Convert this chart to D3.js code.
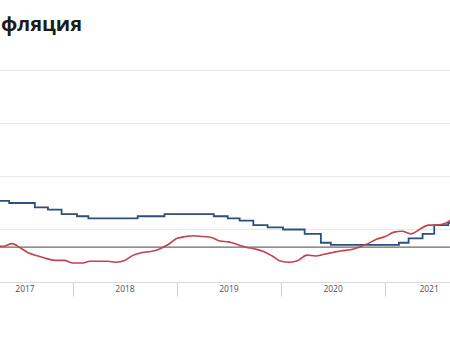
<!DOCTYPE html>
<html>
<head>
<meta charset="utf-8">
<script src="https://cdn.jsdelivr.net/npm/d3@7"></script>
<style>
  html, body { margin: 0; padding: 0; background: #fff; overflow: hidden; }
  svg { display: block; }
</style>
</head>
<body>
<svg id="chart" width="450" height="350"></svg>
<script>
// ---- data ----
const titleText = "фляция";
const yearLabels = ["2017", "2018", "2019", "2020", "2021"];
const gridValues = [6, 12, 18, 24];
const targetValue = 4;

// Annual CPI inflation, % (monthly)
const inflationMonths = [
  "2017-01","2017-02","2017-03","2017-04","2017-05","2017-06","2017-07","2017-08","2017-09","2017-10","2017-11","2017-12",
  "2018-01","2018-02","2018-03","2018-04","2018-05","2018-06","2018-07","2018-08","2018-09","2018-10","2018-11","2018-12",
  "2019-01","2019-02","2019-03","2019-04","2019-05","2019-06","2019-07","2019-08","2019-09","2019-10","2019-11","2019-12",
  "2020-01","2020-02","2020-03","2020-04","2020-05","2020-06","2020-07","2020-08","2020-09","2020-10","2020-11","2020-12",
  "2021-01","2021-02","2021-03","2021-04","2021-05","2021-06","2021-07","2021-08","2021-09","2021-10"
];
const inflationValues = [
  5.0, 4.6, 4.3, 4.1, 4.1, 4.4, 3.9, 3.3, 3.0, 2.7, 2.5, 2.5,
  2.2, 2.2, 2.4, 2.4, 2.4, 2.3, 2.5, 3.1, 3.4, 3.5, 3.8, 4.3,
  5.0, 5.2, 5.3, 5.2, 5.1, 4.7, 4.6, 4.3, 4.0, 3.8, 3.5, 3.0,
  2.4, 2.3, 2.5, 3.1, 3.0, 3.2, 3.4, 3.6, 3.7, 4.0, 4.4, 4.9,
  5.2, 5.7, 5.8, 5.5, 6.0, 6.5, 6.5, 6.7, 7.4, 8.1
];

// Key rate, % (step changes)
const keyRateDates = [
  "2017-02-27","2017-04-02","2017-05-22","2017-08-20","2017-10-05","2017-11-22",
  "2018-01-15","2018-02-24","2018-08-16","2018-11-18",
  "2019-05-10","2019-06-28","2019-08-09","2019-09-26","2019-11-15",
  "2020-01-08","2020-03-24","2020-05-20","2020-06-24",
  "2021-02-18","2021-03-24","2021-05-12","2021-06-22","2021-08-10","2021-09-24"
];
const keyRateValues = [
  9.75, 9.25, 9.0, 8.5, 8.25, 7.75,
  7.5, 7.25, 7.5, 7.75,
  7.5, 7.25, 7.0, 6.5, 6.25,
  6.0, 5.5, 4.5, 4.25,
  4.5, 5.0, 5.5, 6.5, 6.75, 7.5
];

// ---- layout ----
const plotLeft = -23, plotRight = 473;
const yBottom = 282.5, yTop = 70.5;
const parseMonth = d3.timeParse("%Y-%m");
const parseDay = d3.timeParse("%Y-%m-%d");

const svg = d3.select("#chart");

const x = d3.scaleTime()
  .domain([parseDay("2017-01-29"), parseDay("2021-11-05")])
  .range([plotLeft, plotRight]);

const y = d3.scaleLinear()
  .domain([0, 24])
  .range([yBottom, yTop]);

// heading
svg.append("text")
  .attr("x", 1)
  .attr("y", 31)
  .attr("font-family", "'Open Sans', 'DejaVu Sans', sans-serif")
  .attr("font-weight", 700)
  .attr("font-size", 20)
  .attr("fill", "#1b1b1b")
  .text(titleText);

// horizontal grid
svg.append("g")
  .selectAll("line")
  .data(gridValues)
  .join("line")
  .attr("x1", plotLeft).attr("x2", plotRight)
  .attr("y1", d => y(d)).attr("y2", d => y(d))
  .attr("stroke", "#e9e9e9")
  .attr("stroke-width", 1.2);

// x axis baseline
svg.append("line")
  .attr("x1", plotLeft).attr("x2", plotRight)
  .attr("y1", y(0)).attr("y2", y(0))
  .attr("stroke", "#dcdcdc")
  .attr("stroke-width", 1);

// year separators and centred year labels
const yearStarts = yearLabels.map(s => d3.timeYear(parseDay(s + "-01-01")));
svg.append("g")
  .selectAll("line")
  .data(yearStarts.filter(d => x(d) > plotLeft))
  .join("line")
  .attr("x1", d => Math.round(x(d)) + 0.5).attr("x2", d => Math.round(x(d)) + 0.5)
  .attr("y1", y(0)).attr("y2", y(0) + 14)
  .attr("stroke", "#cfcfcf")
  .attr("stroke-width", 1);

svg.append("g")
  .selectAll("text")
  .data(yearLabels)
  .join("text")
  .attr("x", (d, i) => {
    const a = Math.max(plotLeft, x(yearStarts[i]));
    const b = Math.min(plotRight, x(d3.timeYear.offset(yearStarts[i], 1)));
    return (a + b) / 2;
  })
  .attr("y", 292)
  .attr("text-anchor", "middle")
  .attr("font-family", "'Open Sans', 'DejaVu Sans', sans-serif")
  .attr("font-size", 8.5)
  .attr("fill", "#505050")
  .text(d => d);

// inflation target line
svg.append("line")
  .attr("x1", plotLeft).attr("x2", plotRight)
  .attr("y1", y(targetValue)).attr("y2", y(targetValue))
  .attr("stroke", "#6a6a6a")
  .attr("stroke-width", 1.2);

// key rate (step line)
const rateData = keyRateDates.map((d, i) => ({ date: parseDay(d), value: keyRateValues[i] }));
rateData.push({ date: x.domain()[1], value: keyRateValues[keyRateValues.length - 1] });
svg.append("path")
  .datum(rateData)
  .attr("fill", "none")
  .attr("stroke", "#2c4f7c")
  .attr("stroke-width", 1.8)
  .attr("d", d3.line()
    .curve(d3.curveStepAfter)
    .x(d => x(d.date))
    .y(d => y(d.value)));

// inflation (smooth line)
const inflData = inflationMonths.map((m, i) => ({ date: parseMonth(m), value: inflationValues[i] }));
svg.append("path")
  .datum(inflData)
  .attr("fill", "none")
  .attr("stroke", "#c4414f")
  .attr("stroke-width", 1.6)
  .attr("d", d3.line()
    .curve(d3.curveMonotoneX)
    .x(d => x(d.date))
    .y(d => y(d.value)));
</script>
</body>
</html>
